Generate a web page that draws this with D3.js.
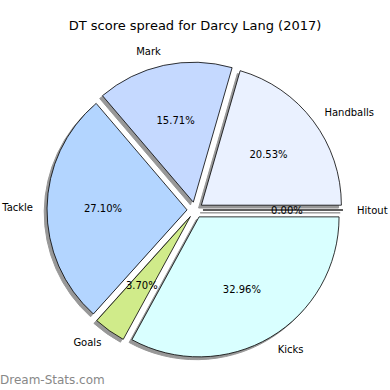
<!DOCTYPE html>
<html>
<head>
<meta charset="utf-8">
<script src="https://cdn.jsdelivr.net/npm/d3@7"></script>
<style>
  body { margin: 0; background: #fff; }
  svg { display: block; font-family: 'DejaVu Sans', sans-serif; }
</style>
</head>
<body>
<div id="chart"></div>
<script>
const w = 390;
const h = 390;

// data, counter-clockwise from 3 o'clock
const categories = ['Hitout', 'Handballs', 'Mark', 'Tackle', 'Goals', 'Kicks'];
const shares = [0.0, 20.53, 15.71, 27.1, 3.7, 32.96];
const colours = ['#eaf1ff', '#eaf1ff', '#c5d9ff', '#b3d5ff', '#d0eb8a', '#d9ffff'];

const cx = 195;
const cy = 210;
const explode = 0.057;

const svg = d3
	.select('#chart')
	.append('svg')
	.attr('width', w)
	.attr('height', h)
	.style('background-color', '#fff');

svg
	.append('text')
	.attr('x', w / 2)
	.attr('y', 25)
	.attr('text-anchor', 'middle')
	.attr('dominant-baseline', 'central')
	.style('font-size', '13px')
	.text('DT score spread for Darcy Lang (2017)');

// radius in pie units -> pixels
const rScale = d3.scaleLinear().domain([0, 1]).range([0, 140]);

// d3 angles start at 12 o'clock clockwise; go counter-clockwise from 3 o'clock
const pie = d3
	.pie()
	.sort(null)
	.value(d => d)
	.startAngle(Math.PI / 2)
	.endAngle(Math.PI / 2 - 2 * Math.PI);

const arcs = pie(shares);
const arc = d3.arc().innerRadius(0).outerRadius(rScale(1));

const dir = a => [Math.sin(a), -Math.cos(a)];

const slices = arcs.map((a, i) => {
	const mid = (a.startAngle + a.endAngle) / 2;
	const [dx, dy] = dir(mid);
	return {
		a,
		i,
		dx,
		dy,
		ox: cx + dx * rScale(explode),
		oy: cy + dy * rScale(explode),
	};
});

// shadows
svg
	.append('g')
	.selectAll('path')
	.data(slices)
	.enter()
	.append('path')
	.attr('d', s => arc(s.a))
	.attr('transform', s => `translate(${s.ox + rScale(-0.02)}, ${s.oy + rScale(0.02)})`)
	.attr('fill', '#7f7f7f')
	.attr('stroke', '#7f7f7f')
	.attr('stroke-width', 1)
	.attr('opacity', 0.8);

// wedges
svg
	.append('g')
	.selectAll('path')
	.data(slices)
	.enter()
	.append('path')
	.attr('d', s => arc(s.a))
	.attr('transform', s => `translate(${s.ox}, ${s.oy})`)
	.attr('fill', s => colours[s.i])
	.attr('stroke', '#000')
	.attr('stroke-width', 0.8)
	.attr('stroke-linejoin', 'round');

// category labels
svg
	.append('g')
	.selectAll('text')
	.data(slices)
	.enter()
	.append('text')
	.attr('x', s => s.ox + s.dx * rScale(1.1))
	.attr('y', s => s.oy + s.dy * rScale(1.1))
	.attr('text-anchor', s => (s.dx < 0 ? 'end' : 'start'))
	.attr('dominant-baseline', 'central')
	.style('font-size', '10px')
	.text(s => categories[s.i]);

// percentages
svg
	.append('g')
	.selectAll('text')
	.data(slices)
	.enter()
	.append('text')
	.attr('x', s => s.ox + s.dx * rScale(0.6))
	.attr('y', s => s.oy + s.dy * rScale(0.6))
	.attr('text-anchor', 'middle')
	.attr('dominant-baseline', 'central')
	.style('font-size', '10px')
	.text(s => `${shares[s.i].toFixed(2)}%`);

svg
	.append('text')
	.attr('x', 0)
	.attr('y', 380)
	.attr('dominant-baseline', 'central')
	.style('font-size', '12px')
	.attr('fill', '#888')
	.text('Dream-Stats.com');
</script>
</body>
</html>
